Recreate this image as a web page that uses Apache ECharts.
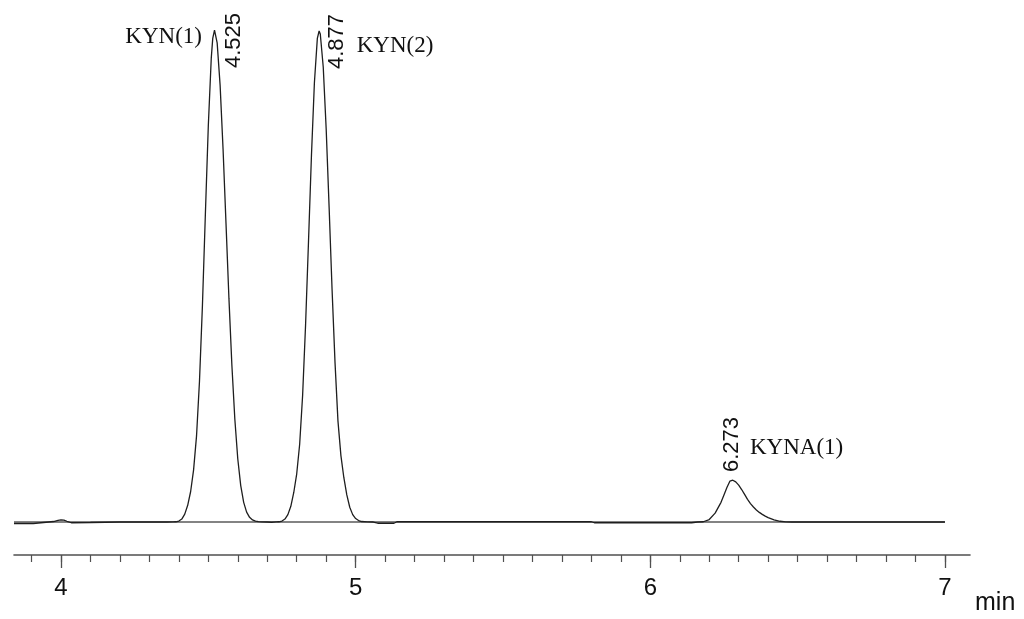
<!DOCTYPE html>
<html>
<head>
<meta charset="utf-8">
<script src="https://cdn.jsdelivr.net/npm/echarts@6/dist/echarts.min.js"></script>
<style>
html,body{margin:0;padding:0;background:#fff;}
#c{width:1024px;height:619px;}
</style>
</head>
<body>
<div id="c"></div>
<script>
// ---- data (time in min, signal in relative units) ----
var baseStart = [[3.8405,-0.3],[3.88,-0.3],[3.906,-0.3],[3.91,0.1],[3.975,0.1],[3.99,0.35],[4.0,0.45],[4.01,0.4],[4.02,0.15],[4.035,-0.15],[4.1,-0.1],[4.2,0],[4.3,0],[4.36,0]];
var kyn1 = [[4.38,0.02],[4.39,0.05],[4.40,0.2],[4.41,0.6],[4.42,1.6],[4.43,3.4],[4.44,6.2],[4.45,10.6],[4.46,17.5],[4.47,28.6],[4.48,44.0],[4.49,62.6],[4.50,80.6],[4.51,94.3],[4.515,98.3],[4.521,100],[4.53,97.4],[4.54,88.8],[4.55,75.8],[4.56,60.7],[4.57,45.4],[4.58,31.8],[4.59,20.9],[4.60,12.8],[4.61,7.4],[4.62,4.0],[4.63,2.0],[4.64,0.95],[4.65,0.42],[4.66,0.17],[4.67,0.07],[4.68,0.02]];
var valley = [[4.70,0],[4.715,-0.05]];
var kyn2 = [[4.73,0.02],[4.74,0.05],[4.75,0.2],[4.76,0.6],[4.77,1.5],[4.78,3.2],[4.79,6.0],[4.80,9.8],[4.81,15.8],[4.82,25.7],[4.83,40.0],[4.84,57.0],[4.85,74.5],[4.86,89.3],[4.87,98.3],[4.876,99.8],[4.88,99.2],[4.89,92.5],[4.90,79.9],[4.91,63.9],[4.92,47.2],[4.93,32.4],[4.94,20.5],[4.95,13.5],[4.96,9.0],[4.97,5.5],[4.98,3.0],[4.99,1.5],[5.00,0.7],[5.01,0.3],[5.02,0.1],[5.04,0.02]];
var baseMid = [[5.06,0],[5.075,-0.25],[5.13,-0.25],[5.14,0.05],[5.5,0.05],[5.8,0.05],[5.81,-0.15],[6.0,-0.15],[6.14,-0.15],[6.16,0]];
var kyna = [[6.18,0.05],[6.20,0.5],[6.22,1.8],[6.24,4.0],[6.25,5.5],[6.26,7.0],[6.27,8.3],[6.276,8.54],[6.28,8.5],[6.29,8.15],[6.30,7.5],[6.31,6.6],[6.32,5.6],[6.33,4.6],[6.34,3.75],[6.35,3.05],[6.36,2.45],[6.37,1.95],[6.38,1.55],[6.39,1.2],[6.40,0.9],[6.42,0.45],[6.44,0.15],[6.46,0.02]];
var baseEnd = [[6.48,0],[6.6,0],[7.0,0]];
var integrationBaseline = [[3.8405,0],[7.0,0]];

var peakNames = ['KYN(1)','KYN(2)','KYNA(1)'];
var peakTimes = [4.525, 4.877, 6.273];
var peakLabels = ['4.525','4.877','6.273'];
var peakHeights = [100, 99.8, 8.54];

var majorTicks = [4, 5, 6, 7];
var minorTicks = [];
for (var i = 39; i <= 70; i++) minorTicks.push(i / 10);
var axisName = 'min';

var trace = [].concat(baseStart, kyn1, valley, kyn2, baseMid, kyna, baseEnd);

var chart = echarts.init(document.getElementById('c'), null, {renderer:'canvas'});
var xMin = 3.8405, xMax = 7.085;
chart.setOption({
  animation: false,
  backgroundColor: '#ffffff',
  grid: {left: 14, right: 54, top: 20.2, bottom: 64, containLabel: false},
  xAxis: [{
    type: 'value', min: xMin, max: xMax, position: 'bottom',
    axisLine: {show: true, onZero: false, lineStyle: {color: '#505050', width: 1.6}},
    axisTick: {show: true, customValues: majorTicks, length: 13, lineStyle: {color: '#505050', width: 1.3}},
    axisLabel: {show: true, customValues: majorTicks, margin: 21, fontSize: 24, color: '#111',
      fontFamily: 'Liberation Sans, Arial, sans-serif', formatter: function(v){return String(Math.round(v));}},
    splitLine: {show: false}
  }, {
    type: 'value', min: xMin, max: xMax, position: 'bottom', gridIndex: 0,
    axisLine: {show: false, onZero: false},
    axisTick: {show: true, customValues: minorTicks, length: 7, lineStyle: {color: '#505050', width: 1.2}},
    axisLabel: {show: false},
    splitLine: {show: false}
  }],
  yAxis: {type: 'value', min: -6.707, max: 102, show: false, splitLine: {show: false}},
  series: [{
    type: 'line', data: integrationBaseline, symbol: 'none', silent: true,
    lineStyle: {color: '#5a5a5a', width: 1.3}, z: 1
  }, {
    type: 'line', data: trace, symbol: 'none', silent: true, smooth: false,
    lineStyle: {color: '#1e1e1e', width: 1.3}, z: 2
  }]
});

function px(t, v){ return chart.convertToPixel({gridIndex: 0}, [t, v]); }
var g = [];
// offsets of labels relative to peak apex (pixels)
var rtOff = [[18.3, 38], [18, 38], [0.7, -8]];
var nameOff = [[-13.7, 6.7, 'right'], [37.3, 15, 'left'], [19.2, -32, 'left']];
for (var k = 0; k < peakTimes.length; k++) {
  var p = px(peakTimes[k], peakHeights[k]);
  g.push({type: 'text', x: p[0] + rtOff[k][0], y: p[1] + rtOff[k][1], rotation: Math.PI/2,
    style: {text: peakLabels[k], font: '22px "Liberation Sans", Arial, sans-serif', fill: '#111',
      textAlign: 'left', textVerticalAlign: 'middle'}});
  g.push({type: 'text', x: p[0] + nameOff[k][0], y: p[1] + nameOff[k][1],
    style: {text: peakNames[k], font: '23px "Liberation Serif", "Times New Roman", serif', fill: '#111',
      textAlign: nameOff[k][2], textVerticalAlign: 'middle'}});
}
g.push({type: 'text', x: 975, y: 603, style: {text: axisName, font: '25px "Liberation Sans", Arial, sans-serif',
  fill: '#111', textAlign: 'left', textVerticalAlign: 'middle'}});
chart.setOption({graphic: g});
</script>
</body>
</html>
